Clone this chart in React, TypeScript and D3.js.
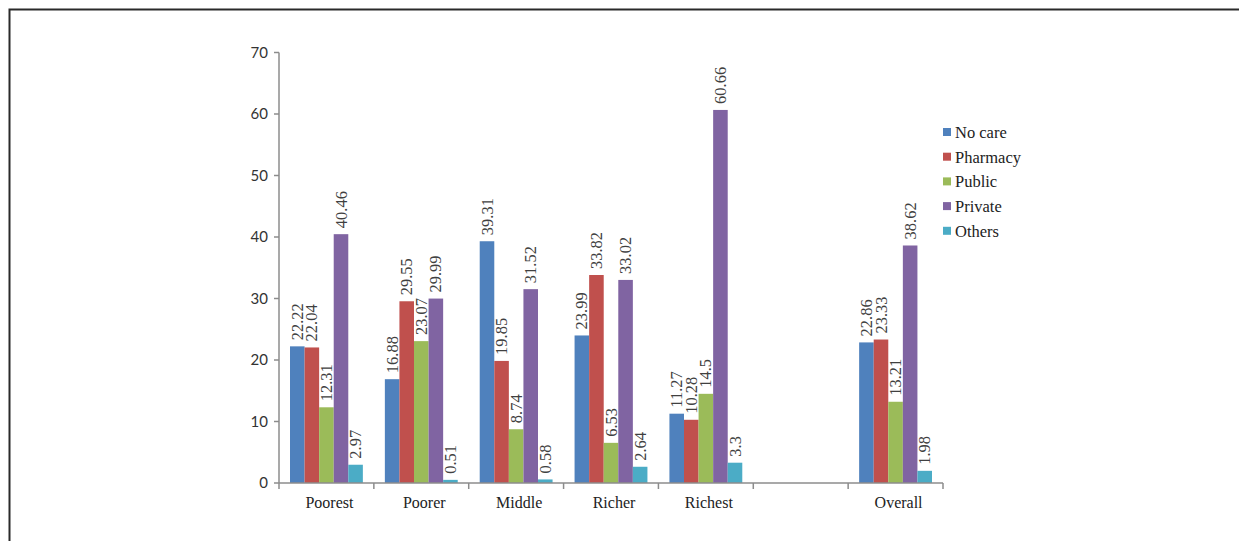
import * as d3 from 'd3';
import { useEffect } from 'react';

// categories (the empty slot is kept as in the source chart)
const categories = ['Poorest', 'Poorer', 'Middle', 'Richer', 'Richest', '', 'Overall'];
const seriesNames = ['No care', 'Pharmacy', 'Public', 'Private', 'Others'];
const seriesColors = ['#4F81BD', '#C0504D', '#9BBB59', '#8064A2', '#4BACC6'];

const noCare = [22.22, 16.88, 39.31, 23.99, 11.27, null, 22.86];
const pharmacy = [22.04, 29.55, 19.85, 33.82, 10.28, null, 23.33];
const publicCare = [12.31, 23.07, 8.74, 6.53, 14.5, null, 13.21];
const privateCare = [40.46, 29.99, 31.52, 33.02, 60.66, null, 38.62];
const others = [2.97, 0.51, 0.58, 2.64, 3.3, null, 1.98];

const yTicks = [0, 10, 20, 30, 40, 50, 60, 70];

const series = [noCare, pharmacy, publicCare, privateCare, others];

export default function App() {
    useEffect(() => {
        document.body.style.margin = '0';
    }, []);

    const width = 1239;
    const height = 541;
    const margin = { left: 279, right: 296, top: 52.5, bottom: 58 };
    const plotBottom = height - margin.bottom; // ~483

    const x = d3.scaleBand<string>()
        .domain(categories.map((c, i) => String(i)))
        .range([margin.left, width - margin.right])
        .padding(0);

    const inner = d3.scaleBand<number>()
        .domain(d3.range(seriesNames.length))
        .range([11, x.bandwidth() - 11])
        .padding(0);

    const y = d3.scaleLinear()
        .domain([0, 70])
        .range([plotBottom, margin.top]);

    const serif = '"Liberation Serif", "Times New Roman", serif';
    const sans = 'Lato, "Open Sans", sans-serif';

    // boundaries between category slots
    const boundaries = d3.range(categories.length + 1).map(i => margin.left + i * x.bandwidth());

    return (
        <svg width={width} height={height} style={{ position: 'absolute', left: 0, top: 0, display: 'block', background: '#fff' }}>
            {/* outer frame */}
            <rect x={9.5} y={9.5} width={1300} height={700} fill="none" stroke="#2a2a2a" strokeWidth={2} />

            {/* bars */}
            {series.map((values, s) => (
                <g key={seriesNames[s]}>
                    {values.map((v, i) => {
                        if (v === null) return null;
                        const bx = (x(String(i)) as number) + (inner(s) as number);
                        return (
                            <rect key={i} x={bx} y={y(v)} width={inner.bandwidth()} height={plotBottom - y(v)} fill={seriesColors[s]} />
                        );
                    })}
                </g>
            ))}

            {/* value labels */}
            {series.map((values, s) => (
                <g key={'lbl' + s}>
                    {values.map((v, i) => {
                        if (v === null) return null;
                        const cx = (x(String(i)) as number) + (inner(s) as number) + inner.bandwidth() / 2;
                        const ty = y(v) - 6;
                        return (
                            <text key={i} transform={`translate(${cx + 5.5},${ty}) rotate(-90)`} fontFamily={serif} fontSize={16.5} fill="#404040">
                                {String(v)}
                            </text>
                        );
                    })}
                </g>
            ))}

            {/* y axis */}
            <line x1={margin.left} x2={margin.left} y1={y(70)} y2={plotBottom} stroke="#8c8c8c" strokeWidth={1.5} />
            {yTicks.map(t => (
                <g key={t}>
                    <line x1={margin.left - 5} x2={margin.left} y1={y(t)} y2={y(t)} stroke="#8c8c8c" strokeWidth={1.5} />
                    <text x={margin.left - 11} y={y(t) + 5} textAnchor="end" fontFamily={sans} fontSize={15} fill="#333">{t}</text>
                </g>
            ))}

            {/* x axis */}
            <line x1={margin.left} x2={width - margin.right} y1={plotBottom} y2={plotBottom} stroke="#8c8c8c" strokeWidth={1.5} />
            {boundaries.map((bx, i) => (
                <line key={i} x1={bx} x2={bx} y1={plotBottom} y2={plotBottom + 6} stroke="#8c8c8c" strokeWidth={1.5} />
            ))}
            {categories.map((c, i) => (
                <text key={i} x={(x(String(i)) as number) + x.bandwidth() / 2 + 3} y={plotBottom + 25} textAnchor="middle" fontFamily={serif} fontSize={16} fill="#222">{c}</text>
            ))}

            {/* legend */}
            {seriesNames.map((n, i) => (
                <g key={n} transform={`translate(943,${133 + i * 24.7})`}>
                    <rect x={0} y={-5} width={8} height={8} fill={seriesColors[i]} />
                    <text x={12} y={5} fontFamily={serif} fontSize={16.5} fill="#222">{n}</text>
                </g>
            ))}
        </svg>
    );
}
